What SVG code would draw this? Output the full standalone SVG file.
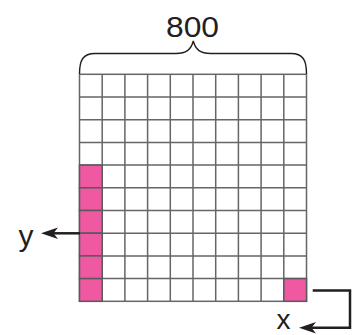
<svg xmlns="http://www.w3.org/2000/svg" width="358" height="335" viewBox="0 0 358 335">
<style>
.pink{fill:#ef59a1;stroke:#5a5a5a;stroke-width:1.5}
.brace{fill:none;stroke:#231f20;stroke-width:1.4}
.conn{fill:none;stroke:#231f20;stroke-width:2.5}
.lbl{font-family:"Liberation Sans",Arial,sans-serif;fill:#231f20}
</style>
<defs>
<marker id="ah" markerUnits="userSpaceOnUse" markerWidth="20" markerHeight="14" viewBox="0 -7 18 14" refX="8" refY="0" orient="auto">
<path d="M0,-5.8 L17,0 L0,5.8 L4.5,0 z" fill="#231f20"/>
</marker>
</defs>
<rect width="358" height="335" fill="#ffffff"/>
<g id="grid-node">
<g stroke="#666666" stroke-width="1.5" fill="none">
<rect x="79.5" y="74.3" width="227" height="227" fill="#ffffff"/>
<path d="M102.2,74.3V301.3M124.9,74.3V301.3M147.6,74.3V301.3M170.3,74.3V301.3M193,74.3V301.3M215.7,74.3V301.3M238.4,74.3V301.3M261.1,74.3V301.3M283.8,74.3V301.3"/>
<path d="M79.5,97H306.5M79.5,119.7H306.5M79.5,142.4H306.5M79.5,165.1H306.5M79.5,187.8H306.5M79.5,210.5H306.5M79.5,233.2H306.5M79.5,255.9H306.5M79.5,278.6H306.5"/>
</g>
</g>
<g id="pink-cells">
<rect class="pink" x="79.5" y="165.1" width="22.7" height="22.7"/>
<rect class="pink" x="79.5" y="187.8" width="22.7" height="22.7"/>
<rect class="pink" x="79.5" y="210.5" width="22.7" height="22.7"/>
<rect class="pink" x="79.5" y="233.2" width="22.7" height="22.7"/>
<rect class="pink" x="79.5" y="255.9" width="22.7" height="22.7"/>
<rect class="pink" x="79.5" y="278.6" width="22.7" height="22.7"/>
<rect class="pink" x="283.8" y="278.6" width="22.7" height="22.7"/>
</g>
<g id="brace-node">
<path class="brace" d="M79.5,74 C79.5,60 83,53.5 95,53.5 L176,53.5 C186,53.5 191,50 193.3,41 C195.6,50 200.6,53.5 210.6,53.5 L291,53.5 C303,53.5 306.5,60 306.5,74"/>
<text class="lbl" x="192.5" y="36.5" font-size="29" text-anchor="middle" textLength="53" lengthAdjust="spacingAndGlyphs">800</text>
</g>
<g id="label-y"><text class="lbl" x="26" y="245.5" font-size="30" text-anchor="middle">y</text></g>
<g id="label-x"><text class="lbl" x="283.5" y="328.5" font-size="28" text-anchor="middle">x</text></g>
<g id="connectors">
<path class="conn" d="M80,233.3 H50" marker-end="url(#ah)"/>
<path class="conn" d="M312.7,290.5 H350 V327.7 H308" marker-end="url(#ah)"/>
</g>
</svg>
